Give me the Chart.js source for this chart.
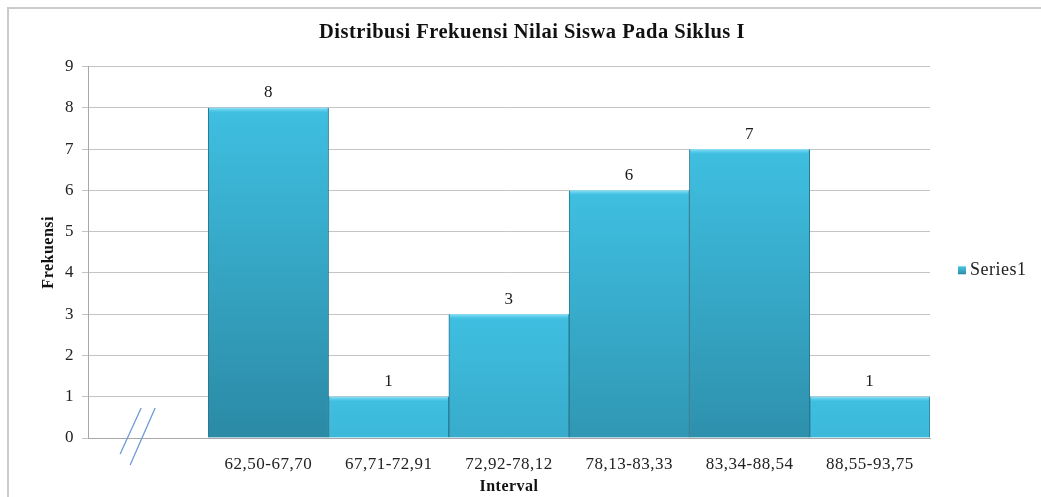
<!DOCTYPE html>
<html>
<head>
<meta charset="utf-8">
<script src="https://cdn.jsdelivr.net/npm/chart.js@4.4.1/dist/chart.umd.min.js"></script>
<style>
  html, body { margin: 0; padding: 0; background: #fff; }
  #wrap { position: relative; width: 1041px; height: 497px; }
  #frame { position: absolute; left: 7px; top: 7px; right: -10px; bottom: -10px;
           border-top: 2px solid #cbcbcb; border-left: 2px solid #cbcbcb; pointer-events: none; }
</style>
</head>
<body>
<div id="wrap">
  <canvas id="BarChart" width="1041" height="497"></canvas>
  <div id="frame"></div>
</div>
<script>
const intervals = ["", "62,50-67,70", "67,71-72,91", "72,92-78,12", "78,13-83,33", "83,34-88,54", "88,55-93,75"];
const frekuensi = [null, 8, 1, 3, 6, 7, 1];
const yMax = 9;
const seriesName = "Series1";

const serif = "'Liberation Serif', 'Times New Roman', serif";

// the source chart's text runs a bit wide
const wideText = {
  id: "wideText",
  beforeDraw(chart) { chart.ctx.letterSpacing = "0.5px"; }
};

// labels on top of the bars + top bevel
const valueLabels = {
  id: "valueLabels",
  afterDatasetsDraw(chart) {
    const ctx = chart.ctx;
    const meta = chart.getDatasetMeta(0);
    ctx.save();
    meta.data.forEach((bar, i) => {
      const v = frekuensi[i];
      if (v == null) return;
      const p = bar.getProps(["x", "y", "width"], true);
      const g = ctx.createLinearGradient(0, p.y, 0, p.y + 5);
      g.addColorStop(0, "rgba(150,230,248,0.95)");
      g.addColorStop(1, "rgba(90,205,235,0)");
      ctx.fillStyle = g;
      ctx.fillRect(p.x - p.width / 2 + 1, p.y, p.width - 2, 5);
      ctx.fillStyle = "#1a1a1a";
      ctx.font = "17px " + serif;
      ctx.textAlign = "center";
      ctx.textBaseline = "middle";
      ctx.fillText(String(v), p.x, p.y - 15);
    });
    ctx.restore();
  }
};

// legend to the right of the plot
const sideLegend = {
  id: "sideLegend",
  afterDraw(chart) {
    const a = chart.chartArea;
    const ctx = chart.ctx;
    const bx = a.right + 28;
    const by = (a.top + a.bottom) / 2 + 18;
    ctx.save();
    const g = ctx.createLinearGradient(0, by - 4, 0, by + 4);
    g.addColorStop(0, "#49c6e6");
    g.addColorStop(1, "#2b8aa6");
    ctx.fillStyle = g;
    ctx.fillRect(bx, by - 4, 8, 8);
    ctx.fillStyle = "#222";
    ctx.font = "18px " + serif;
    ctx.textAlign = "left";
    ctx.textBaseline = "middle";
    ctx.fillText(seriesName, bx + 12, by);
    ctx.restore();
  }
};

// the "//" axis break mark under the empty first category
const axisBreak = {
  id: "axisBreak",
  afterDraw(chart) {
    const x = chart.scales.x.getPixelForValue(0);
    const y = chart.scales.y.getPixelForValue(0);
    const ctx = chart.ctx;
    ctx.save();
    ctx.strokeStyle = "#6f9ad8";
    ctx.lineWidth = 1.3;
    ctx.beginPath();
    ctx.moveTo(x - 28, y + 16); ctx.lineTo(x - 7, y - 30);
    ctx.moveTo(x - 18, y + 27); ctx.lineTo(x + 7, y - 30);
    ctx.stroke();
    ctx.restore();
  }
};

const ctx = document.getElementById("BarChart").getContext("2d");
const BarChart = new Chart(ctx, {
  type: "bar",
  data: {
    labels: intervals,
    datasets: [
      {
        label: seriesName,
        data: frekuensi,
        backgroundColor(c) {
          const y = c.chart.scales.y;
          if (!y || c.raw == null || c.type !== "data") return "#3bb8da";
          const top = y.getPixelForValue(c.raw);
          const g = c.chart.ctx.createLinearGradient(0, top, 0, top + 330);
          g.addColorStop(0, "#3fbfe1");
          g.addColorStop(1, "#2b8aa5");
          return g;
        },
        borderColor: "#287890",
        borderWidth: { left: 1, right: 1, top: 0, bottom: 0 },
        categoryPercentage: 1,
        barPercentage: 1,
      },
    ],
  },
  options: {
    responsive: false,
    animation: false,
    layout: { padding: { top: 10, left: 35, right: 12, bottom: 1 } },
    plugins: {
      title: {
        display: true,
        text: "Distribusi Frekuensi Nilai Siswa Pada Siklus I",
        color: "#111",
        font: { family: serif, size: 20.5, weight: "bold" },
        padding: { top: 10, bottom: 22 },
      },
      legend: { display: false },
      tooltip: { enabled: false },
    },
    scales: {
      x: {
        grid: { display: false, drawTicks: false },
        border: { display: true, color: "#a8a8a8" },
        ticks: { color: "#222", font: { family: serif, size: 17 }, padding: 16, maxRotation: 0, autoSkip: false },
        title: { display: true, text: "Interval", color: "#111", font: { family: serif, size: 16, weight: "bold" }, padding: { top: 2, bottom: 0 } },
        afterFit(scale) { scale.height = 58; },
      },
      y: {
        min: 0,
        max: yMax,
        ticks: { stepSize: 1, color: "#222", font: { family: serif, size: 17 }, padding: 8 },
        grid: { color: "#c4c4c4", tickLength: 6 },
        border: { color: "#a8a8a8" },
        title: { display: true, text: "Frekuensi", color: "#111", font: { family: serif, size: 16, weight: "bold" }, padding: { top: 4, bottom: 0 } },
        afterFit(scale) { scale.width = 53; },
      },
      // empty right-hand box that keeps room for the legend
      legendRoom: {
        type: "linear",
        position: "right",
        display: true,
        grid: { display: false, drawTicks: false },
        border: { display: false },
        ticks: { display: false },
        afterFit(scale) { scale.width = 99; },
      },
    },
  },
  plugins: [wideText, valueLabels, sideLegend, axisBreak],
});
</script>
</body>
</html>
